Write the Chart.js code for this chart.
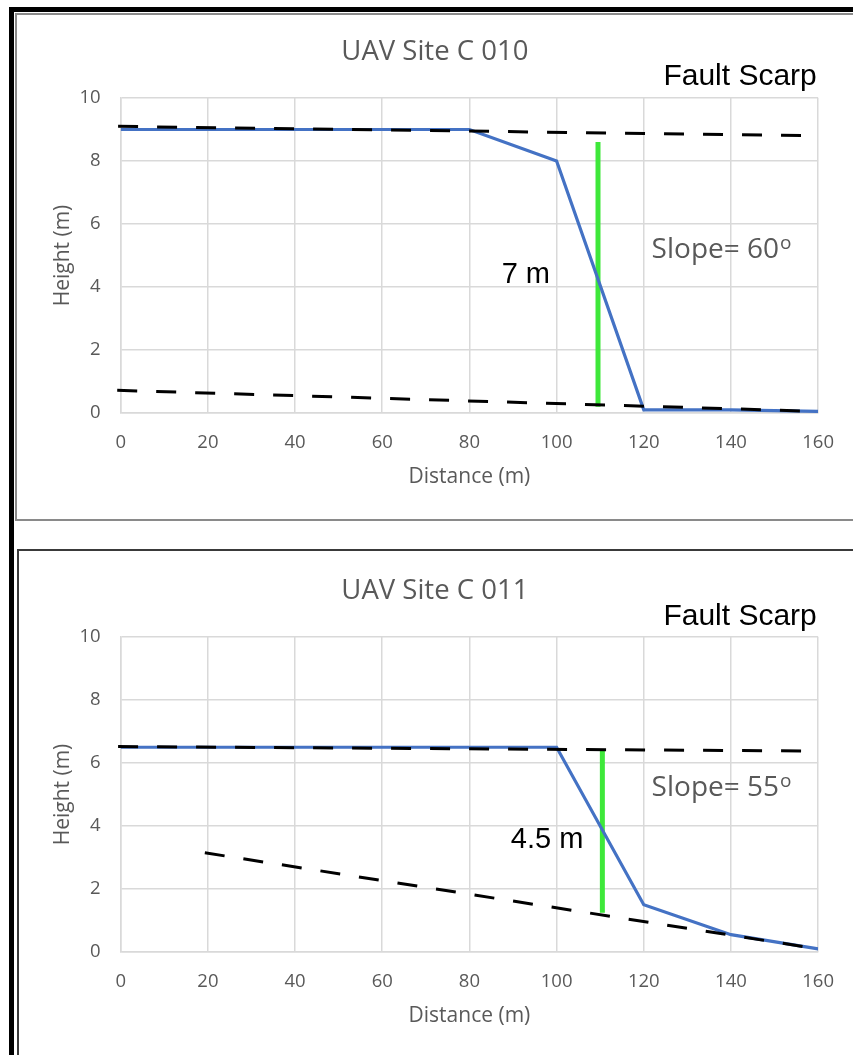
<!DOCTYPE html>
<html>
<head>
<meta charset="utf-8">
<title>UAV Site C - fault scarp profiles</title>
<script src="https://cdn.jsdelivr.net/npm/chart.js@4.4.1/dist/chart.umd.min.js"></script>
<style>
    body { margin: 0; width: 853px; height: 1055px; overflow: hidden; background: #fff; position: relative; }
    .frame { position: absolute; left: 9px; top: 7px; width: 900px; height: 1100px; border-left: 5px solid #000; border-top: 5px solid #000; }
    .box1 { position: absolute; left: 15px; top: 13px; width: 900px; height: 508px; box-sizing: border-box; border: 2px solid #8a8a8a; border-right: none; }
    .box2 { position: absolute; left: 17px; top: 549px; width: 900px; height: 600px; border-left: 2px solid #3a3a3a; border-top: 2px solid #3a3a3a; }
    .plot { position: absolute; left: 21px; }
</style>
</head>
<body>
<div class="frame"></div>
<div class="box1"></div>
<div class="box2"></div>
<canvas id="site010" class="plot" style="top:0px" width="832" height="520"></canvas>
<canvas id="site011" class="plot" style="top:539px" width="832" height="520"></canvas>
<script>
var distance = [0, 20, 40, 60, 80, 100, 120, 140, 160];
var height010 = [9, 9, 9, 9, 9, 8, 0.1, 0.1, 0.05];
var height011 = [6.5, 6.5, 6.5, 6.5, 6.5, 6.5, 1.5, 0.55, 0.1];

// surfaces above and below the scarp, [distance, height]
var upper010 = [[-0.6, 9.1], [160, 8.8]];
var lower010 = [[-0.8, 0.72], [160, 0.05]];
var upper011 = [[-0.6, 6.52], [160, 6.38]];
var lower011 = [[19.3, 3.15], [160, 0.1]];

// vertical offset bars
var offset010 = [[109.5, 0.2], [109.5, 8.6]];
var offset011 = [[110.5, 1.25], [110.5, 6.4]];

var xTicks = [0, 20, 40, 60, 80, 100, 120, 140, 160];
var yTicks = [0, 2, 4, 6, 8, 10];

var gray = '#595959';
var gridColor = '#d9d9d9';

Chart.defaults.font.family = "'Open Sans', sans-serif";

function toPoints(xs, ys) {
    var pts = [];
    for (var i = 0; i < xs.length; i++) {
        pts.push({x: xs[i], y: ys[i]});
    }
    return pts;
}

function pairPoints(pairs) {
    return pairs.map(function(p) { return {x: p[0], y: p[1]}; });
}

// text boxes placed in data units
var notesPlugin = {
    id: 'notes',
    afterDatasetsDraw: function(chart, args, opts) {
        var ctx = chart.ctx;
        var sx = chart.scales.x, sy = chart.scales.y;
        ctx.save();
        ctx.textAlign = 'left';
        (opts.items || []).forEach(function(n) {
            var px = sx.getPixelForValue(n.x);
            var py = sy.getPixelForValue(n.y);
            ctx.font = n.font;
            ctx.fillStyle = n.color;
            ctx.textBaseline = 'middle';
            ctx.fillText(n.text, px, py);
            if (n.sup) {
                var w = ctx.measureText(n.text).width;
                ctx.font = n.supFont;
                ctx.textBaseline = 'alphabetic';
                ctx.fillText(n.sup, px + w + 1, py - 1);
            }
        });
        ctx.restore();
    }
};

function makeChart(id, title, heights, upper, lower, offset, notes) {
    return new Chart(document.getElementById(id), {
        type: 'line',
        data: {
            datasets: [{
                data: pairPoints(upper),
                borderColor: '#000',
                borderWidth: 3,
                borderDash: [20, 19],
                pointRadius: 0,
                clip: false,
                order: 1
            }, {
                data: pairPoints(lower),
                borderColor: '#000',
                borderWidth: 3,
                borderDash: [20, 19],
                pointRadius: 0,
                clip: false,
                order: 1
            }, {
                data: toPoints(distance, heights),
                borderColor: '#4472c4',
                borderWidth: 3.2,
                pointRadius: 0,
                tension: 0,
                order: 2
            }, {
                data: pairPoints(offset),
                borderColor: '#3ee83a',
                borderWidth: 5,
                pointRadius: 0,
                order: 3
            }]
        },
        options: {
            responsive: false,
            animation: false,
            events: [],
            layout: {padding: {left: 29.7, right: 34, top: 0, bottom: 30.7}},
            plugins: {
                legend: {display: false},
                tooltip: {enabled: false},
                title: {
                    display: true,
                    text: title,
                    color: gray,
                    font: {size: 27.5, weight: 'normal'},
                    padding: {top: 35.5, bottom: 29.5}
                },
                notes: {items: notes}
            },
            scales: {
                x: {
                    type: 'linear',
                    min: 0,
                    max: 160,
                    afterBuildTicks: function(s) { s.ticks = xTicks.map(function(v) { return {value: v}; }); },
                    afterFit: function(s) { s.height = 76.3; },
                    grid: {color: gridColor, lineWidth: 1.5, drawTicks: false},
                    border: {color: gridColor, width: 1.5},
                    ticks: {color: gray, font: {size: 18.5}, padding: 19, maxRotation: 0},
                    title: {display: true, text: 'Distance (m)', color: gray, font: {size: 21}, padding: 0}
                },
                y: {
                    min: 0,
                    max: 10,
                    afterBuildTicks: function(s) { s.ticks = yTicks.map(function(v) { return {value: v}; }); },
                    afterFit: function(s) { s.width = 70; },
                    grid: {color: gridColor, lineWidth: 1.5, drawTicks: false},
                    border: {color: gridColor, width: 1.5},
                    ticks: {color: gray, font: {size: 18.5}, padding: 20},
                    title: {display: true, text: 'Height (m)', color: gray, font: {size: 21}, padding: 0}
                }
            }
        },
        plugins: [notesPlugin]
    });
}

var chart010 = makeChart('site010', 'UAV Site C 010', height010, upper010, lower010, offset010, [
    {text: 'Fault Scarp', x: 124.5, y: 10.67, font: '30px "Liberation Sans", Arial', color: '#000'},
    {text: 'Slope= 60', sup: 'o', x: 121.8, y: 5.17, font: '28px "Open Sans"', supFont: '19px "Open Sans"', color: gray},
    {text: '7 m', x: 87.4, y: 4.38, font: '29px "Liberation Sans", Arial', color: '#000'}
]);

var chart011 = makeChart('site011', 'UAV Site C 011', height011, upper011, lower011, offset011, [
    {text: 'Fault Scarp', x: 124.5, y: 10.63, font: '30px "Liberation Sans", Arial', color: '#000'},
    {text: 'Slope= 55', sup: 'o', x: 121.8, y: 5.2, font: '28px "Open Sans"', supFont: '19px "Open Sans"', color: gray},
    {text: '4.5 m', x: 89.5, y: 3.56, font: '29px "Liberation Sans", Arial', color: '#000'}
]);
</script>
</body>
</html>
